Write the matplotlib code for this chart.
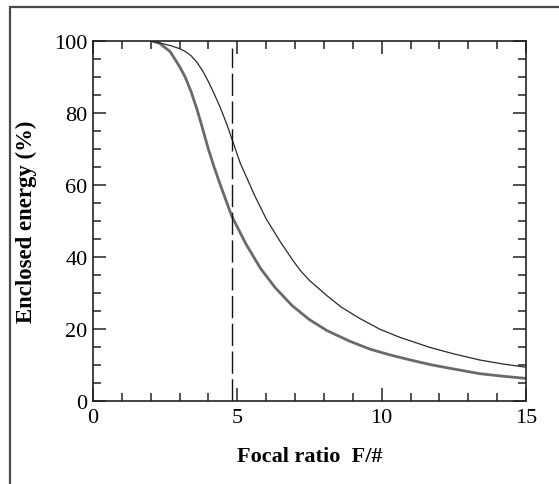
import numpy as np
import matplotlib
matplotlib.use("Agg")
import matplotlib.pyplot as plt
from matplotlib.patches import Rectangle
from matplotlib.ticker import MultipleLocator

# values
f_thick = [2.0, 2.3, 2.67, 3.0, 3.2, 3.4, 3.6, 3.8, 4.0, 4.2, 4.4, 4.8, 5.3, 5.8, 6.3, 6.9, 7.5, 8.1, 8.9, 9.6, 10.3, 11.0, 11.7, 12.5, 13.4, 14.2, 15.0]
e_thick = [100, 99.3, 97.0, 92.8, 89.8, 85.8, 81.0, 75.5, 69.8, 64.8, 60.2, 51.4, 43.5, 36.8, 31.5, 26.4, 22.5, 19.5, 16.5, 14.3, 12.7, 11.3, 10.0, 8.8, 7.5, 6.8, 6.2]

f_thin = [2.0, 2.3, 2.7, 3.0, 3.2, 3.4, 3.6, 3.8, 4.0, 4.2, 4.4, 4.63, 4.86, 5.1, 5.6, 6.0, 6.5, 6.94, 7.2, 7.5, 8.1, 8.6, 9.25, 9.95, 10.63, 11.67, 12.5, 13.4, 14.2, 15.0]
e_thin = [100, 99.4, 98.6, 97.8, 97.0, 95.8, 94.0, 91.6, 88.6, 85.2, 81.6, 76.9, 71.6, 66.0, 57.0, 50.5, 44.0, 38.8, 36.0, 33.4, 29.2, 26.0, 22.8, 19.8, 17.6, 14.8, 13.0, 11.3, 10.2, 9.3]

f_marker = 4.8

xticks = [0, 5, 10, 15]
yticks = [0, 20, 40, 60, 80, 100]

plt.rcParams['font.family'] = ['Liberation Serif', 'DejaVu Serif']

fig = plt.figure(figsize=(5.59, 4.85), dpi=100)
fig.patch.set_facecolor("white")

# frame round the whole picture (right and bottom edges fall off the image)
fig.patches.append(Rectangle((10 / 559, -0.05), 1.2, 1 - 8 / 485 + 0.05,
                             transform=fig.transFigure, fill=False,
                             edgecolor="#4a4a4a", lw=1.6))

ax = fig.add_axes([93 / 559, 1 - 401.7 / 485, (526 - 93) / 559, (401.7 - 41.7) / 485])

ax.plot(f_thick, e_thick, color="#6a6a6a", lw=2.0, solid_capstyle="round")
ax.plot(f_thin, e_thin, color="#2a2a2a", lw=0.9)
ax.plot([f_marker, f_marker], [0, 98], color="#111111", lw=1.0, dashes=(16, 4))

ax.set_xlim(0, 15)
ax.set_ylim(0, 100)
ax.set_xticks(xticks)
ax.set_yticks(yticks)
ax.xaxis.set_minor_locator(MultipleLocator(1))
ax.yaxis.set_minor_locator(MultipleLocator(5))
ax.tick_params(which="both", direction="in", top=True, right=True, width=1.1, color="#222222")
ax.tick_params(which="major", length=9.5, labelsize=16)
ax.tick_params(axis="x", which="major", pad=5)
ax.tick_params(axis="y", which="major", pad=4)
ax.tick_params(which="minor", length=5.5)
for s in ax.spines.values():
    s.set_linewidth(1.2)
    s.set_color("#222222")

ax.set_xlabel("Focal ratio  F/#", fontsize=16, fontweight="bold", labelpad=14)
ax.set_ylabel("Enclosed energy (%)", fontsize=16.4, fontweight="bold", labelpad=12)

fig.savefig("out.png", dpi=100)
